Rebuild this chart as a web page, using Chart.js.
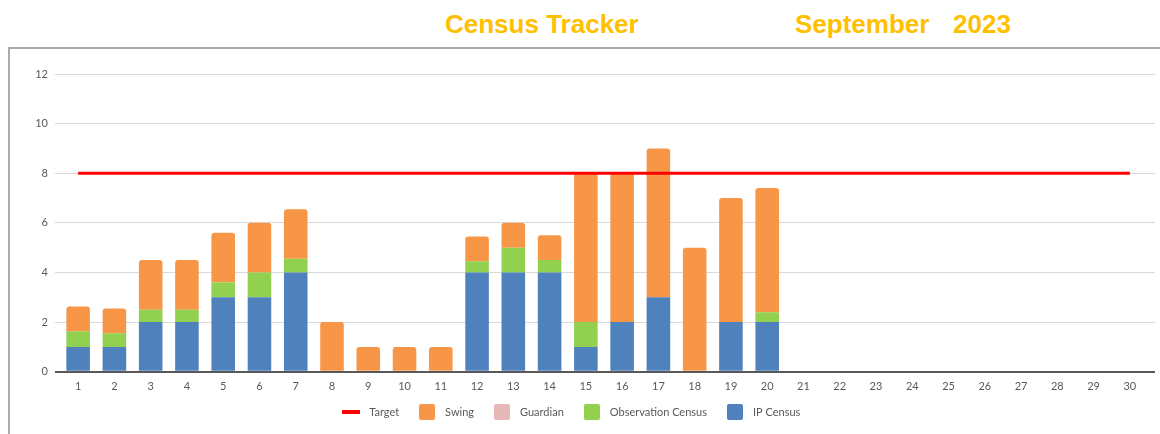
<!DOCTYPE html>
<html>
<head>
<meta charset="utf-8">
<script src="https://cdn.jsdelivr.net/npm/chart.js@4"></script>
<style>
  html, body { margin: 0; padding: 0; background: #ffffff; }
  body { width: 1160px; height: 434px; position: relative; overflow: hidden; }
  .frame { position: absolute; left: 8px; top: 47px; width: 1200px; height: 420px;
           border-left: 2px solid #ababab; border-top: 2px solid #ababab; }
  .ttl { position: absolute; top: 11px; font-family: "Liberation Sans", Arial, sans-serif;
         font-weight: bold; font-size: 26px; line-height: 26px; color: #FFC000; white-space: pre; }
  #c { position: absolute; left: 0; top: 0; }
</style>
</head>
<body>
<div class="frame"></div>
<div class="ttl" style="left:445px">Census Tracker</div>
<div class="ttl" style="left:795px">September</div>
<div class="ttl" style="left:953px">2023</div>
<canvas id="c" width="1160" height="434"></canvas>
<script>
// ---- data ----
const days = ['1','2','3','4','5','6','7','8','9','10','11','12','13','14','15','16','17','18','19','20','21','22','23','24','25','26','27','28','29','30'];
const ipCensus  = [1, 1, 2, 2, 3, 3, 4, 0, 0, 0, 0, 4, 4, 4, 1, 2, 3, 0, 2, 2, null, null, null, null, null, null, null, null, null, null];
const obsCensus = [0.63, 0.55, 0.5, 0.5, 0.6, 1, 0.55, 0, 0, 0, 0, 0.45, 1, 0.5, 1, 0, 0, 0, 0, 0.4, null, null, null, null, null, null, null, null, null, null];
const guardian  = [0, 0, 0, 0, 0, 0, 0, 0, 0, 0, 0, 0, 0, 0, 0, 0, 0, 0, 0, 0, null, null, null, null, null, null, null, null, null, null];
const swing     = [1, 1, 2, 2, 2, 2, 2, 2, 1, 1, 1, 1, 1, 1, 6, 6, 6, 5, 5, 5, null, null, null, null, null, null, null, null, null, null];
const target    = [8, 8, 8, 8, 8, 8, 8, 8, 8, 8, 8, 8, 8, 8, 8, 8, 8, 8, 8, 8, 8, 8, 8, 8, 8, 8, 8, 8, 8, 8];
const yTicks    = [0, 2, 4, 6, 8, 10, 12];

// ---- styles ----
const COL_IP = '#4F81BD', COL_OBS = '#92D050', COL_GUARD = '#E6B9B8', COL_SWING = '#F79646', COL_TARGET = '#FF0000';
const GRID = '#d9d9d9', AXIS = '#595959', TXT = '#595959';

function boxMarker(color) {
  const cv = document.createElement('canvas');
  cv.width = 16; cv.height = 16;
  const g = cv.getContext('2d');
  g.fillStyle = color;
  g.beginPath();
  if (g.roundRect) g.roundRect(0, 0, 16, 16, 2); else g.rect(0, 0, 16, 16);
  g.fill();
  return cv;
}
function lineMarker(color) {
  const cv = document.createElement('canvas');
  cv.width = 18; cv.height = 4;
  const g = cv.getContext('2d');
  g.fillStyle = color;
  g.fillRect(0, 0, 18, 4);
  return cv;
}
const markers = [boxMarker(COL_IP), boxMarker(COL_OBS), boxMarker(COL_GUARD), boxMarker(COL_SWING), lineMarker(COL_TARGET)];

const gridColor = ctx => (ctx.tick && ctx.tick.value === 0) ? AXIS : GRID;
const gridWidth = ctx => (ctx.tick && ctx.tick.value === 0) ? 2 : 1;

const shiftLegend = {
  id: 'shiftLegend',
  afterLayout(chart) {
    if (chart.legend) { chart.legend.left -= 12; chart.legend.right -= 12; }
  }
};

function build() {
  const barCommon = { type: 'bar', stack: 'census', barPercentage: 0.65, categoryPercentage: 1,
                      borderRadius: 3, borderSkipped: 'start', order: 1 };
  new Chart(document.getElementById('c'), {
    data: {
      labels: days,
      datasets: [
        Object.assign({ label: 'IP Census', data: ipCensus, backgroundColor: COL_IP }, barCommon),
        Object.assign({ label: 'Observation Census', data: obsCensus, backgroundColor: COL_OBS }, barCommon),
        Object.assign({ label: 'Guardian', data: guardian, backgroundColor: COL_GUARD }, barCommon),
        Object.assign({ label: 'Swing', data: swing, backgroundColor: COL_SWING }, barCommon),
        { type: 'line', label: 'Target', data: target, borderColor: COL_TARGET, backgroundColor: COL_TARGET,
          borderWidth: 3, pointRadius: 0, fill: false, stack: 'target', order: 0 }
      ]
    },
    plugins: [shiftLegend],
    options: {
      responsive: false,
      animation: false,
      devicePixelRatio: 1,
      layout: { padding: { left: 8, right: 5, top: 74, bottom: 6.5 } },
      plugins: {
        title: { display: false },
        tooltip: { enabled: false },
        legend: {
          position: 'bottom',
          labels: {
            usePointStyle: true,
            pointStyleWidth: 25,
            padding: 15.5,
            color: TXT,
            font: { family: 'Lato', size: 11 },
            sort: (a, b) => b.datasetIndex - a.datasetIndex,
            generateLabels(chart) {
              const items = Chart.defaults.plugins.legend.labels.generateLabels(chart);
              items.forEach(it => { it.pointStyle = markers[it.datasetIndex]; });
              return items;
            }
          }
        }
      },
      scales: {
        x: {
          stacked: true,
          grid: { display: false, drawTicks: false },
          border: { display: false },
          ticks: { color: TXT, font: { family: 'Lato', size: 11 }, padding: 8, maxRotation: 0, autoSkip: false },
          afterFit(s) { s.height = 19.3; }
        },
        y: {
          stacked: true,
          position: 'left',
          min: 0, max: 12,
          afterBuildTicks(s) { s.ticks = yTicks.map(v => ({ value: v })); },
          grid: { color: gridColor, lineWidth: gridWidth, drawTicks: true, tickLength: 5 },
          border: { display: false },
          ticks: { color: TXT, font: { family: 'Lato', size: 11 }, padding: 7 },
          afterFit(s) { s.width = 52; }
        },
        y2: {
          position: 'right',
          min: 0, max: 12,
          afterBuildTicks(s) { s.ticks = yTicks.map(v => ({ value: v })); },
          grid: { color: gridColor, lineWidth: gridWidth, drawOnChartArea: false, drawTicks: true, tickLength: 7 },
          border: { display: false },
          ticks: { display: false },
          afterFit(s) { s.width = 7; }
        }
      }
    }
  });
}
if (document.fonts && document.fonts.load) {
  Promise.all([document.fonts.load('11px Lato'), document.fonts.load('bold 26px "Liberation Sans"')])
    .then(build, build);
} else { build(); }
</script>
</body>
</html>
